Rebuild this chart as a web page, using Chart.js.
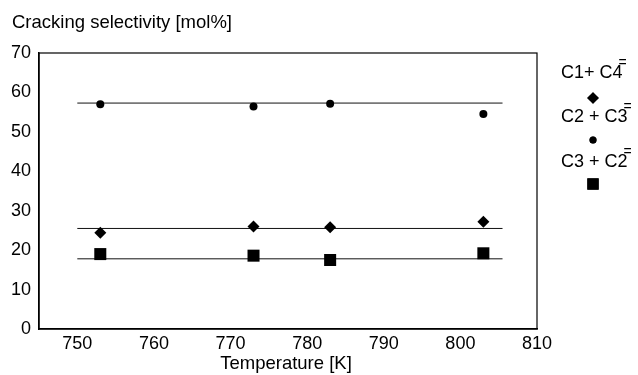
<!DOCTYPE html>
<html>
<head>
<meta charset="utf-8">
<script src="https://cdn.jsdelivr.net/npm/chart.js@4.4.0/dist/chart.umd.min.js"></script>
<style>
  html, body { margin: 0; padding: 0; background: #fff; }
  #wrap { width: 638px; height: 375px; position: relative; }
</style>
</head>
<body>
<div id="wrap"><canvas id="chart" width="638" height="375"></canvas></div>
<script>
// temperatures [K] of the measurements
const temps = [753, 773, 783, 803];

// selectivities [mol%]
const c1c4 = [24.4, 26.0, 25.8, 27.2];   // diamonds
const c2c3 = [57.0, 56.4, 57.1, 54.5];   // circles
const c3c2 = [19.0, 18.6, 17.5, 19.2];   // squares

// horizontal average lines (start/end temperature and level)
const lineX = [750, 805.5];
const c1c4Avg = 25.5;
const c2c3Avg = 57.3;
const c3c2Avg = 17.8;

const xTicks = [750, 760, 770, 780, 790, 800, 810];
const yTicks = [0, 10, 20, 30, 40, 50, 60, 70];

const labels = ['C1+ C4', 'C2 + C3', 'C3 + C2'];

const font = 'Arial, "Liberation Sans", sans-serif';

const pts = (ys) => temps.map((t, i) => ({ x: t, y: ys[i] }));
const flat = (v) => lineX.map(x => ({ x, y: v }));

const markerSet = (label, ys, style, r) => ({
    label,
    data: pts(ys),
    showLine: false,
    pointStyle: style,
    pointRadius: r,
    backgroundColor: '#000',
    borderColor: '#000',
    borderWidth: 0
});

const lineSet = (v) => ({
    data: flat(v),
    showLine: true,
    borderColor: '#111',
    borderWidth: 1,
    pointRadius: 0,
    fill: false
});

// y title, x title and the stacked legend (label above its marker)
const extras = {
    id: 'extras',
    afterDraw(chart) {
        const ctx = chart.ctx;
        ctx.save();
        ctx.fillStyle = '#000';
        ctx.font = '18.5px ' + font;
        ctx.textBaseline = 'alphabetic';
        ctx.textAlign = 'left';
        ctx.fillText('Cracking selectivity [mol%]', 12, 28);

        ctx.textAlign = 'center';
        ctx.fillText('Temperature [K]', 286, 369);

        const rows = [
            { y: 78, style: 'rectRot', r: 5.8, my: 98 },
            { y: 122, style: 'circle', r: 3.5, my: 140 },
            { y: 167, style: 'rect', r: 8, my: 184 }
        ];
        rows.forEach((row, i) => {
            ctx.font = '18px ' + font;
            ctx.textAlign = 'left';
            const w = ctx.measureText(labels[i]).width;
            const x0 = 561;
            ctx.fillText(labels[i], x0, row.y);
            // superscript "=" (double bond) sitting on the last digit
            ctx.font = '14px ' + font;
            ctx.fillText('=', x0 + w - 4, row.y - 11);
            Chart.helpers.drawPoint(ctx, { pointStyle: row.style, radius: row.r, borderWidth: 0 }, 593, row.my);
            ctx.fill();
        });
        ctx.restore();
    }
};

new Chart(document.getElementById('chart'), {
    type: 'scatter',
    data: {
        datasets: [
            markerSet(labels[0], c1c4, 'rectRot', 6),
            markerSet(labels[1], c2c3, 'circle', 4),
            markerSet(labels[2], c3c2, 'rect', 8.5),
            lineSet(c1c4Avg),
            lineSet(c2c3Avg),
            lineSet(c3c2Avg)
        ]
    },
    options: {
        responsive: false,
        animation: false,
        layout: { padding: { left: 0, top: 53, right: 101, bottom: 0 } },
        plugins: {
            legend: { display: false },
            tooltip: { enabled: false }
        },
        scales: {
            x: {
                type: 'linear',
                min: 745,
                max: 810,
                afterBuildTicks: (s) => { s.ticks = xTicks.map(v => ({ value: v })); },
                afterFit: (s) => { s.height = 46; },
                grid: { display: false, drawTicks: false },
                border: { color: '#000', width: 1.5 },
                ticks: { color: '#000', font: { family: font, size: 18 }, padding: 4, maxRotation: 0 }
            },
            y: {
                min: 0,
                max: 70,
                afterBuildTicks: (s) => { s.ticks = yTicks.map(v => ({ value: v })); },
                afterFit: (s) => { s.width = 39; },
                grid: { display: false, drawTicks: false },
                border: { color: '#000', width: 1.5 },
                ticks: { color: '#000', font: { family: font, size: 18 }, padding: 8 }
            }
        }
    },
    plugins: [extras, {
        id: 'frame',
        afterDatasetsDraw(chart) {
            const { ctx, chartArea: a } = chart;
            ctx.save();
            ctx.strokeStyle = '#000';
            ctx.lineWidth = 1.2;
            ctx.strokeRect(a.left, a.top, a.right - a.left, a.bottom - a.top);
            ctx.restore();
        }
    }]
});
</script>
</body>
</html>
